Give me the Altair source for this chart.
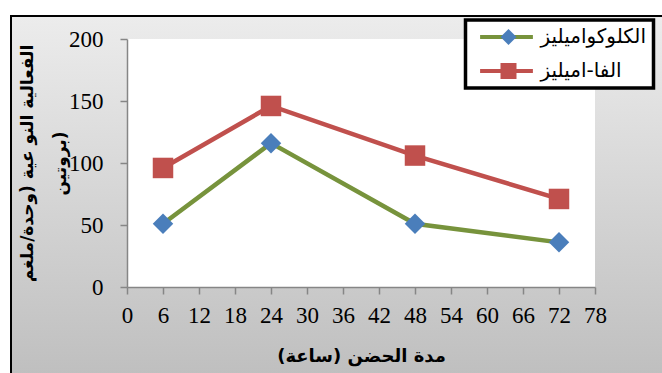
import altair as alt
import pandas as pd

# Incubation time (hours) and specific activity (units/mg protein)
hours = [6, 24, 48, 72]
glucoamylase = [51, 116, 51, 36]
alpha_amylase = [96, 146, 106, 71]

series_names = ["الكلوكواميليز", "الفا-اميليز"]
line_colors = ["#77933c", "#c0504d"]
marker_colors = ["#4a7ebb", "#c0504d"]
marker_shapes = ["diamond", "square"]

x_ticks = list(range(0, 79, 6))
y_ticks = [0, 50, 100, 150, 200]
x_title = "مدة الحضن (ساعة)"
y_title = ["الفعالية النو عية (وحدة/ملغم", "بروتين)"]

rows = []
for name, values in zip(series_names, [glucoamylase, alpha_amylase]):
    for h, v in zip(hours, values):
        rows.append({"series": name, "hours": h, "activity": v})
df = pd.DataFrame(rows)

W, H = 468, 248
ARABIC_FONT = "DejaVu Sans"
NUM_FONT = "Liberation Serif"
AXIS_GREY = "#868686"

one_row = alt.Data(values=[{"k": 0}])

# gradient panel behind the whole chart, framed on its left and top edges
frame = alt.Chart(one_row).mark_rect(
    fill=alt.Gradient(
        gradient="linear",
        stops=[alt.GradientStop(color="#ececec", offset=0),
               alt.GradientStop(color="#bfbfbf", offset=1)],
        x1=0, x2=0, y1=0, y2=1,
    ),
    stroke="black",
    strokeWidth=2,
).encode(x=alt.value(-116), x2=alt.value(540), y=alt.value(-23), y2=alt.value(336))

# white plotting area
plot_bg = alt.Chart(one_row).mark_rect(fill="white").encode(
    x=alt.value(0), x2=alt.value(W), y=alt.value(0), y2=alt.value(H)
)

x_enc = alt.X(
    "hours:Q",
    scale=alt.Scale(domain=[0, 78], nice=False),
    axis=alt.Axis(values=x_ticks, title=x_title, labelPadding=10, zindex=1,
                  titleY=69, titleBaseline="middle", titleFontSize=18),
)
y_enc = alt.Y(
    "activity:Q",
    scale=alt.Scale(domain=[0, 200], nice=False),
    axis=alt.Axis(values=y_ticks, title=y_title, labelPadding=17, zindex=1,
                  titleX=-108, titleY=H / 2, titleAngle=270,
                  titleBaseline="top", titleAlign="center", titleLineHeight=33),
)

LEG_X, LEG_Y = 338.5, -19

# boxed legend: line samples (a long horizontal stroke) and the series names;
# the trailing spaces leave a margin before the right border
line_legend = alt.Legend(
    orient="none", legendX=LEG_X, legendY=LEG_Y, title=None,
    padding=7, rowPadding=14,
    symbolType="M-3.3,0L3.3,0", symbolSize=256, symbolStrokeWidth=4, symbolOffset=24,
    labelOffset=24, labelExpr="datum.label + '  '",
    labelFont=ARABIC_FONT, labelFontSize=20, labelColor="black",
    fillColor="white", strokeColor="black",
)
# marker samples laid over the line samples
point_legend = alt.Legend(
    orient="none", legendX=LEG_X, legendY=LEG_Y, title=None,
    padding=7, rowPadding=14,
    symbolSize=256, symbolStrokeWidth=0, symbolOffset=26, symbolOpacity=1,
    labelOffset=4, labelExpr="' '", labelOpacity=0,
    labelFont=ARABIC_FONT, labelFontSize=20,
)

base = alt.Chart(df)

lines = base.mark_line(strokeWidth=4.5).encode(
    x=x_enc,
    y=y_enc,
    stroke=alt.Stroke("series:N", sort=series_names,
                      scale=alt.Scale(range=line_colors), legend=line_legend),
)

points = base.mark_point(filled=True, opacity=1, size=420).encode(
    x=x_enc,
    y=y_enc,
    fill=alt.Fill("series:N", scale=alt.Scale(domain=series_names, range=marker_colors),
                  legend=point_legend),
    shape=alt.Shape("series:N", scale=alt.Scale(domain=series_names, range=marker_shapes),
                    legend=point_legend),
)

chart = (
    alt.layer(frame, plot_bg, lines, points)
    .properties(
        width=W,
        height=H,
        padding={"left": 127, "top": 39, "right": 662 - 127 - W, "bottom": 373 - 39 - H},
        autosize=alt.AutoSizeParams(type="none"),
    )
    .configure(background="white")
    .configure_view(strokeWidth=0)
    .configure_axis(
        grid=False,
        domainColor=AXIS_GREY,
        domainWidth=1.5,
        tickColor=AXIS_GREY,
        tickWidth=1.5,
        tickSize=7,
        labelFont=NUM_FONT,
        labelFontSize=23,
        labelColor="black",
        labelOverlap=False,
        labelFlush=False,
        labelBound=False,
        titleFont=ARABIC_FONT,
        titleFontSize=17,
        titleFontWeight="bold",
        titleColor="black",
    )
    .configure_legend(strokeWidth=3.5)
)

chart.save("out.html", embed_options={"renderer": "svg", "actions": False})
